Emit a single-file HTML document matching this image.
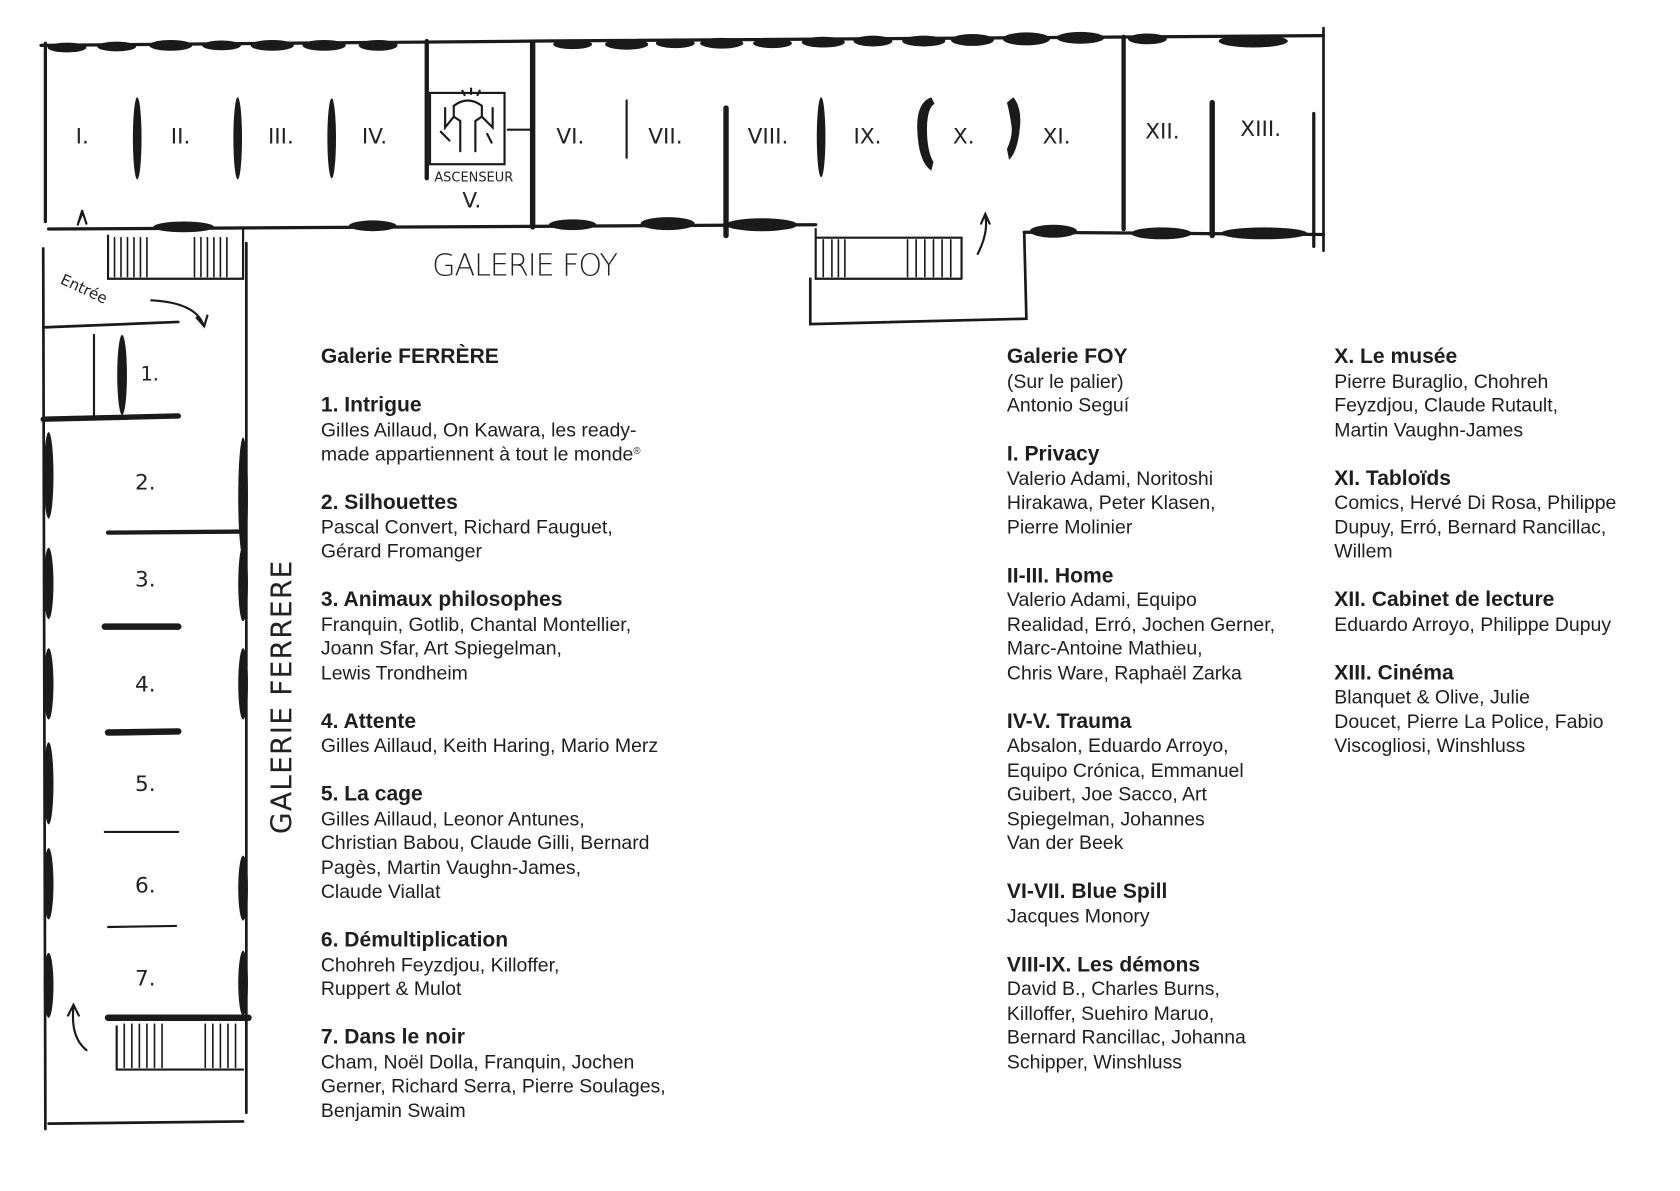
<!DOCTYPE html>
<html><head><meta charset="utf-8"><style>
html,body{margin:0;padding:0;background:#fff;width:1680px;height:1191px;overflow:hidden}
#w{position:absolute;left:0;top:0;width:1555px;height:1102px;transform:scale(1.0804);transform-origin:0 0}
svg{position:absolute;left:0;top:0}
.col{position:absolute;top:319px;font-family:"Liberation Sans",sans-serif;font-size:18px;line-height:22.5px;color:#1e1e1e}
.col b{font-size:19.5px;display:block;line-height:22.5px}
.col p{margin:0 0 22.5px 0}
.col sup{font-size:9px;line-height:0;vertical-align:6px}
.hw{font-family:"DejaVu Sans","Liberation Sans",sans-serif;fill:#222}
</style></head><body><div id="w">
<svg width="1555" height="1102" viewBox="0 0 1555 1102">
<g stroke="#1a1a1a" fill="none" stroke-linecap="round">
<path d="M38 42 L500 38 L1225 33" stroke-width="3"/>
<path d="M42 40 L42 205" stroke-width="3"/>
<path d="M1225 26 L1225 232" stroke-width="2.5"/>
<path d="M45 212 L400 210 L755 208" stroke-width="3"/>
<path d="M948 215 L1225 217" stroke-width="3"/>
<path d="M395 38 L395 165" stroke-width="4"/>
<path d="M493 40 L493 210" stroke-width="5"/>
<path d="M580 93 L580 146" stroke-width="2"/>
<path d="M672 100 L672 218" stroke-width="5"/>
<path d="M1040 34 L1040 212" stroke-width="4"/>
<path d="M1122 95 L1122 218" stroke-width="5"/>
<path d="M1216 105 L1216 228" stroke-width="3"/>
<path d="M470 120 L493 120" stroke-width="2"/>
<path d="M100 218 L100 258 L225 258 L225 212" stroke-width="2"/>
<path d="M106 220v36M112 220v36M118 220v36M124 220v36M130 220v36M136 220v36M180 220v36M186 220v36M192 220v36M198 220v36M204 220v36M210 220v36" stroke-width="1.5"/>
<path d="M755 212 L755 258 L890 258 M755 220 L890 220 L890 258" stroke-width="2"/>
<path d="M762 222v34M770 222v34M776 222v34M782 222v34M840 222v34M848 222v34M856 222v34M864 222v34M872 222v34M880 222v34" stroke-width="1.5"/>
<path d="M750 258 L750 300 L950 295 L948 215" stroke-width="2.5"/>
<path d="M73 205 L76 198" stroke-width="2"/><path d="M76 195 L72 208 M76 195 L80 207" stroke-width="2"/>
<path d="M905 235 Q915 215 912 200 M908 207 L912 198 L916 207" stroke-width="2"/>
<path d="M140 278 Q180 280 188 300 M182 294 L189 302 L192 292" stroke-width="2"/>
<path d="M40 230 L42 1045" stroke-width="2.5"/>
<path d="M228 225 L228 1030" stroke-width="2.5"/>
<path d="M40 303 L165 298" stroke-width="2.5"/>
<path d="M45 1040 L225 1038" stroke-width="2.5"/>
<path d="M87 310 L87 385" stroke-width="2"/>
<path d="M40 388 L165 385" stroke-width="5"/>
<path d="M100 493 L225 492" stroke-width="4"/>
<path d="M97 580 L165 580" stroke-width="6"/>
<path d="M100 678 L165 677" stroke-width="6"/>
<path d="M97 770 L165 770" stroke-width="2"/>
<path d="M100 858 L163 857" stroke-width="2"/>
<path d="M100 942 L230 942" stroke-width="6"/>
<path d="M108 950 L108 990 L225 990" stroke-width="2"/>
<path d="M115 948v40M122 948v40M129 948v40M136 948v40M143 948v40M150 948v40M190 948v40M197 948v40M204 948v40M211 948v40M218 948v40" stroke-width="1.5"/>
<path d="M80 972 Q65 960 68 932 M63 940 L68 930 L73 940" stroke-width="2"/>
</g>
<g fill="#1a1a1a">
<ellipse cx="62" cy="44" rx="18" ry="4.5"/><ellipse cx="108" cy="43" rx="18" ry="4.5"/><ellipse cx="158" cy="42" rx="20" ry="5"/><ellipse cx="205" cy="42" rx="18" ry="4.5"/><ellipse cx="252" cy="42" rx="20" ry="5"/><ellipse cx="300" cy="42" rx="20" ry="5"/><ellipse cx="350" cy="42" rx="18" ry="5"/>
<ellipse cx="530" cy="41" rx="18" ry="4.5"/><ellipse cx="580" cy="41" rx="20" ry="5"/><ellipse cx="625" cy="40" rx="18" ry="4.5"/><ellipse cx="668" cy="40" rx="20" ry="5"/><ellipse cx="715" cy="40" rx="18" ry="4.5"/><ellipse cx="762" cy="39" rx="20" ry="5"/><ellipse cx="808" cy="38" rx="18" ry="5"/><ellipse cx="855" cy="38" rx="20" ry="5"/><ellipse cx="900" cy="37" rx="20" ry="5.5"/><ellipse cx="950" cy="36" rx="22" ry="6"/><ellipse cx="1000" cy="35" rx="22" ry="5.5"/><ellipse cx="1062" cy="36" rx="18" ry="5"/><ellipse cx="1160" cy="38" rx="32" ry="6"/>
<ellipse cx="170" cy="210" rx="28" ry="5"/><ellipse cx="345" cy="209" rx="22" ry="5"/><ellipse cx="530" cy="208" rx="22" ry="5"/><ellipse cx="618" cy="207" rx="25" ry="6"/><ellipse cx="705" cy="208" rx="33" ry="6"/><ellipse cx="975" cy="214" rx="22" ry="6"/><ellipse cx="1075" cy="216" rx="28" ry="5.5"/><ellipse cx="1170" cy="216" rx="40" ry="5.5"/>
<ellipse cx="127" cy="128" rx="4" ry="38"/><ellipse cx="220" cy="128" rx="4" ry="38"/><ellipse cx="307" cy="128" rx="4" ry="37"/><ellipse cx="760" cy="127" rx="4" ry="37"/>
<path d="M862 90 Q848 95 849 120 Q850 150 862 158 L864 150 Q858 140 858 120 Q858 100 865 96 Z"/>
<path d="M938 90 Q946 100 944 118 Q942 140 934 148 L932 138 Q938 125 936 115 Q934 102 932 95 Z"/>
<ellipse cx="113" cy="347" rx="4.5" ry="37"/>
<ellipse cx="45" cy="440" rx="4.5" ry="40"/><ellipse cx="45" cy="540" rx="4.5" ry="33"/><ellipse cx="45" cy="633" rx="4.5" ry="33"/><ellipse cx="45" cy="725" rx="4.5" ry="38"/><ellipse cx="45" cy="818" rx="4.5" ry="33"/><ellipse cx="45" cy="912" rx="4.5" ry="30"/>
<ellipse cx="225" cy="460" rx="4.5" ry="55"/><ellipse cx="225" cy="540" rx="4.5" ry="35"/><ellipse cx="225" cy="633" rx="4.5" ry="33"/><ellipse cx="225" cy="822" rx="4.5" ry="30"/><ellipse cx="225" cy="910" rx="4.5" ry="30"/>
</g>
<g stroke="#1a1a1a" fill="none" stroke-width="2" stroke-linecap="round">
<rect x="398" y="86" width="69" height="66"/>
<path d="M420 98 Q433 88 446 98 L446 108 L440 112 L440 140 M420 98 L420 108 L426 112 L426 140 M420 108 L412 118 L412 100 M446 108 L456 118 L456 100 M408 122 L416 130 M451 124 L455 132 M428 84 L430 88 M436 82 L436 87 M444 84 L442 88"/>
</g>
<g class="hw" font-size="20">
<text x="70" y="133">I.</text><text x="158" y="133">II.</text><text x="248" y="133">III.</text><text x="335" y="133">IV.</text>
<text x="515" y="133">VI.</text><text x="600" y="133">VII.</text><text x="692" y="133">VIII.</text><text x="790" y="133">IX.</text><text x="882" y="133">X.</text><text x="965" y="133">XI.</text><text x="1060" y="128">XII.</text><text x="1148" y="126">XIII.</text>
<text x="428" y="192">V.</text>
<text x="402" y="168" font-size="12">ASCENSEUR</text>
<text x="400" y="255" font-size="28" font-weight="300" letter-spacing="3" textLength="175">GALERIE FOY</text>
<text x="130" y="352" font-size="18">1.</text><text x="125" y="453">2.</text><text x="125" y="543">3.</text><text x="125" y="640">4.</text><text x="125" y="732">5.</text><text x="125" y="826">6.</text><text x="125" y="912">7.</text>
<text transform="translate(270,772) rotate(-90)" font-size="26" letter-spacing="2" textLength="255">GALERIE FERRERE</text>
<text transform="translate(55,262) rotate(25)" font-size="14">Entrée</text>
</g>
</svg>
<div class="col" style="left:297px">
<p><b>Galerie FERRÈRE</b></p>
<p><b>1. Intrigue</b>Gilles Aillaud, On Kawara, les ready-<br>made appartiennent à tout le monde<sup>®</sup></p>
<p><b>2. Silhouettes</b>Pascal Convert, Richard Fauguet,<br>Gérard Fromanger</p>
<p><b>3. Animaux philosophes</b>Franquin, Gotlib, Chantal Montellier,<br>Joann Sfar, Art Spiegelman,<br>Lewis Trondheim</p>
<p><b>4. Attente</b>Gilles Aillaud, Keith Haring, Mario Merz</p>
<p><b>5. La cage</b>Gilles Aillaud, Leonor Antunes,<br>Christian Babou, Claude Gilli, Bernard<br>Pagès, Martin Vaughn-James,<br>Claude Viallat</p>
<p><b>6. Démultiplication</b>Chohreh Feyzdjou, Killoffer,<br>Ruppert &amp; Mulot</p>
<p><b>7. Dans le noir</b>Cham, Noël Dolla, Franquin, Jochen<br>Gerner, Richard Serra, Pierre Soulages,<br>Benjamin Swaim</p>
</div>
<div class="col" style="left:932px">
<p><b>Galerie FOY</b>(Sur le palier)<br>Antonio Seguí</p>
<p><b>I. Privacy</b>Valerio Adami, Noritoshi<br>Hirakawa, Peter Klasen,<br>Pierre Molinier</p>
<p><b>II-III. Home</b>Valerio Adami, Equipo<br>Realidad, Erró, Jochen Gerner,<br>Marc-Antoine Mathieu,<br>Chris Ware, Raphaël Zarka</p>
<p><b>IV-V. Trauma</b>Absalon, Eduardo Arroyo,<br>Equipo Crónica, Emmanuel<br>Guibert, Joe Sacco, Art<br>Spiegelman, Johannes<br>Van der Beek</p>
<p><b>VI-VII. Blue Spill</b>Jacques Monory</p>
<p><b>VIII-IX. Les démons</b>David B., Charles Burns,<br>Killoffer, Suehiro Maruo,<br>Bernard Rancillac, Johanna<br>Schipper, Winshluss</p>
</div>
<div class="col" style="left:1235px">
<p><b>X. Le musée</b>Pierre Buraglio, Chohreh<br>Feyzdjou, Claude Rutault,<br>Martin Vaughn-James</p>
<p><b>XI. Tabloïds</b>Comics, Hervé Di Rosa, Philippe<br>Dupuy, Erró, Bernard Rancillac,<br>Willem</p>
<p><b>XII. Cabinet de lecture</b>Eduardo Arroyo, Philippe Dupuy</p>
<p><b>XIII. Cinéma</b>Blanquet &amp; Olive, Julie<br>Doucet, Pierre La Police, Fabio<br>Viscogliosi, Winshluss</p>
</div>
</div></body></html>
